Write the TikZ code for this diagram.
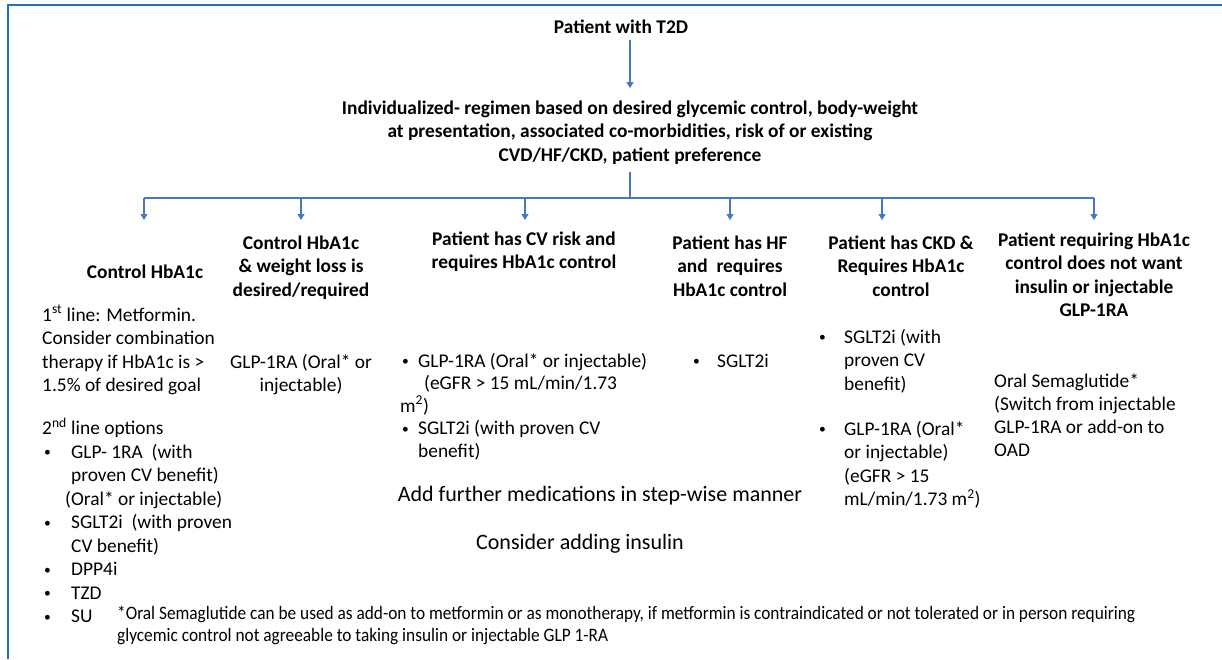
\documentclass[tikz,border=0pt]{standalone}
\usepackage{fontspec}
\setmainfont{Carlito}
\usetikzlibrary{arrows.meta}
\definecolor{arrowblue}{RGB}{72,118,196}
\definecolor{borderblue}{RGB}{36,114,184}
\newcommand{\fs}{\fontsize{19.4}{23.5}\selectfont}
\newcommand{\fsb}{\fontsize{22}{26}\selectfont}
\newcommand{\smalldot}{\raisebox{1.5pt}{\scalebox{0.7}{•}}}
\newcommand{\bul}[1]{\makebox[#1][l]{\hspace*{2pt}\smalldot}}
\begin{document}
\begin{tikzpicture}[x=1pt,y=-1pt,
  hdr/.style={font=\fs\bfseries, align=center, anchor=north, inner sep=0pt},
  bodyl/.style={font=\fs, align=left, anchor=north west, inner sep=0pt},
  bodyc/.style={font=\fs, align=center, anchor=north, inner sep=0pt},
  ln/.style={draw=arrowblue, line width=1.1pt},
  arr/.style={ln, -{Triangle[width=7pt,length=6pt]}},
  border/.style={draw=borderblue, line width=2pt}]
\useasboundingbox (0,0) rectangle (1222,659);
\draw[border] (8,659) -- (8,5) -- (1222,5);

% top
\node[hdr] (top) at (621,16.4) {\strut Patient with T2D};
\coordinate (a0) at (630,88);
\coordinate (bus) at (630,198);
\coordinate (m0) at (630,172);
\draw[arr] (top.south -| a0) -- (a0);
\node[hdr] (main) at (630,97.4) {\strut Individualized- regimen based on desired glycemic control, body-weight\\
at presentation, associated co-morbidities, risk of or existing\\
CVD/HF/CKD, patient preference};
\draw[ln] (m0) -- (bus);

% arrow tips
\coordinate (t1) at (144,220);
\coordinate (t2) at (301,220);
\coordinate (t3) at (525,220);
\coordinate (t4) at (730,220);
\coordinate (t5) at (882,220);
\coordinate (t6) at (1094,220);
\draw[ln] (t1 |- bus) -- (t6 |- bus);
\foreach \t in {t1,t2,t3,t4,t5,t6}{\draw[arr] (\t |- bus) -- (\t);}

% column 1
\node[hdr] (c1h) at (145,261.4) {\strut Control HbA1c};
\node[bodyl] (c1b) at (42,304.4) {\strut 1\textsuperscript{st} line: Metformin.\\
Consider combination\\
therapy if HbA1c is >\\
1.5\% of desired goal};
\node[bodyl] (c1c) at (42,417.4) {\strut 2\textsuperscript{nd} line options\\
\bul{29pt}GLP- 1RA\ \ (with\\
\hspace*{29pt}proven CV benefit)\\
\hspace*{23pt}(Oral* or injectable)\\
\bul{29pt}SGLT2i\ \ (with proven\\
\hspace*{29pt}CV benefit)\\
\bul{29pt}DPP4i\\
\bul{29pt}TZD\\
\bul{29pt}SU};

% column 2
\node[hdr] (c2h) at (301,232.4) {\strut Control HbA1c\\ \& weight loss is\\ desired/required};
\node[bodyc] (c2b) at (301,351.4) {\strut GLP-1RA (Oral* or\\ injectable)};

% column 3
\node[hdr] (c3h) at (524,228.4) {\strut Patient has CV risk and\\ requires HbA1c control};
\node[bodyl, font=\fontsize{19.4}{22.5}\selectfont] (c3b) at (400,351.4) {\strut \bul{18pt}GLP-1RA (Oral* or injectable)\\
\hspace*{24pt}(eGFR > 15 mL/min/1.73\\
m\textsuperscript{2})\\
\bul{18pt}SGLT2i (with proven CV\\
\hspace*{18pt}benefit)};

% column 4
\node[hdr] (c4h) at (730,232.4) {\strut Patient has HF\\ and\ \ requires\\ HbA1c control};
\node[bodyl] (c4b) at (691,350.4) {\strut \bul{26pt}SGLT2i};

% column 5
\node[hdr] (c5h) at (901,232.4) {\strut Patient has CKD \&\\ Requires HbA1c\\ control};
\node[bodyl] (c5b) at (817,326.4) {\strut \bul{27pt}SGLT2i (with\\
\hspace*{27pt}proven CV\\
\hspace*{27pt}benefit)};
\node[bodyl] (c5c) at (817,418.4) {\strut \bul{27pt}GLP-1RA (Oral*\\
\hspace*{27pt}or injectable)\\
\hspace*{27pt}(eGFR > 15\\
\hspace*{27pt}mL/min/1.73 m\textsuperscript{2})};

% column 6
\node[hdr] (c6h) at (1094,229.4) {\strut Patient requiring HbA1c\\ control does not want\\ insulin or injectable\\ GLP-1RA};
\node[bodyl, font=\fontsize{19.4}{23}\selectfont] (c6b) at (994,371.4) {\strut Oral Semaglutide*\\
(Switch from injectable\\
GLP-1RA or add-on to\\
OAD};

% middle notes
\node[font=\fsb, inner sep=0pt, anchor=base] (add) at (600,501.6) {Add further medications in step-wise manner};
\node[font=\fsb, inner sep=0pt, anchor=base] (ins) at (580,549.6) {Consider adding insulin};

% footnote
\node[inner sep=0pt, anchor=north west] (foot) at (117,604) {\resizebox{1018pt}{\height}{\fontsize{19}{22}\selectfont\begin{tabular}{@{}l@{}}*Oral Semaglutide can be used as add-on to metformin or as monotherapy, if metformin is contraindicated or not tolerated or in person requiring\\
glycemic control not agreeable to taking insulin or injectable GLP 1-RA\end{tabular}}};
\end{tikzpicture}
\end{document}
